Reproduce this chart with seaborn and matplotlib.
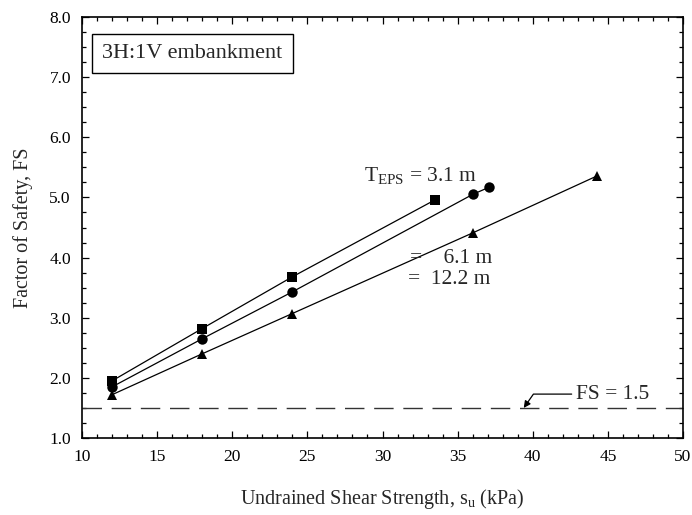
import numpy as np
import pandas as pd
import seaborn as sns
import matplotlib.pyplot as plt
from matplotlib.ticker import MultipleLocator, FormatStrFormatter

sns.set_theme(style="ticks")
plt.rcParams["font.family"] = ["Liberation Serif", "DejaVu Serif"]
plt.rcParams["mathtext.fontset"] = "custom"
plt.rcParams["mathtext.rm"] = "Liberation Serif"
plt.rcParams["mathtext.it"] = "Liberation Serif:italic"

# Data (su in kPa, factor of safety)
su_31 = [12, 18, 24, 33.5]
fs_31 = [1.95, 2.82, 3.68, 4.96]
su_61 = [12, 18, 24, 36, 37.1]
fs_61 = [1.85, 2.65, 3.43, 5.05, 5.17]
su_122 = [12, 18, 24, 36, 44.3]
fs_122 = [1.72, 2.40, 3.07, 4.41, 5.36]
fs_limit = 1.5

fig = plt.figure(figsize=(6.92, 5.15), dpi=100)
ax = fig.add_axes([0.1185, 0.1495, 0.8685, 0.8175])

series = [
    (su_31, fs_31, "s", 6.5),
    (su_61, fs_61, "o", 7.5),
    (su_122, fs_122, "^", 7.5),
]
for xs, ys, mk, ms in series:
    df = pd.DataFrame({"su": xs, "fs": ys})
    sns.lineplot(data=df, x="su", y="fs", ax=ax, color="black", lw=0.9,
                 marker=mk, markersize=ms, markeredgewidth=0, sort=False)

ax.axhline(fs_limit, color="#333333", lw=1.0, dashes=(14, 7))

### Config plot ###
ax.set_xlim(10, 50)
ax.set_ylim(1.0, 8.0)
ax.xaxis.set_major_locator(MultipleLocator(5))
ax.xaxis.set_minor_locator(MultipleLocator(1))
ax.yaxis.set_major_locator(MultipleLocator(1))
ax.yaxis.set_minor_locator(MultipleLocator(0.25))
ax.yaxis.set_major_formatter(FormatStrFormatter("%.1f"))
ax.tick_params(which="both", direction="in", top=True, right=True,
               labelsize=12.5, width=0.9, colors="black")
ax.tick_params(which="major", length=5, pad=8)
ax.tick_params(which="minor", length=3)
for sp in ax.spines.values():
    sp.set_linewidth(1.2)
    sp.set_color("black")

ax.set_xlabel("Undrained Shear Strength, s$_\\mathrm{u}$ (kPa)", fontsize=14.5, labelpad=16)
ax.set_ylabel("Factor of Safety, FS", fontsize=14.5, labelpad=12)

ax.text(0.034, 0.913, "3H:1V embankment", transform=ax.transAxes, fontsize=16,
        va="center", ha="left",
        bbox=dict(boxstyle="square,pad=0.45", fc="white", ec="black", lw=1.0))

ax.text(28.8, 5.36, "T$_\\mathrm{EPS}$ = 3.1 m", fontsize=15.5, va="center", ha="left")
ax.text(37.3, 3.99, "=    6.1 m", fontsize=15.5, va="center", ha="right")
ax.text(37.2, 3.63, "=  12.2 m", fontsize=15.5, va="center", ha="right")

ax.annotate("FS = 1.5", xy=(39.4, 1.5), xytext=(42.9, 1.73), fontsize=15.5,
            va="center", ha="left",
            arrowprops=dict(arrowstyle="-|>", color="black", lw=0.9,
                            connectionstyle="angle,angleA=0,angleB=55,rad=0",
                            shrinkA=1, shrinkB=0, mutation_scale=10))

plt.savefig("out.png", dpi=100)
